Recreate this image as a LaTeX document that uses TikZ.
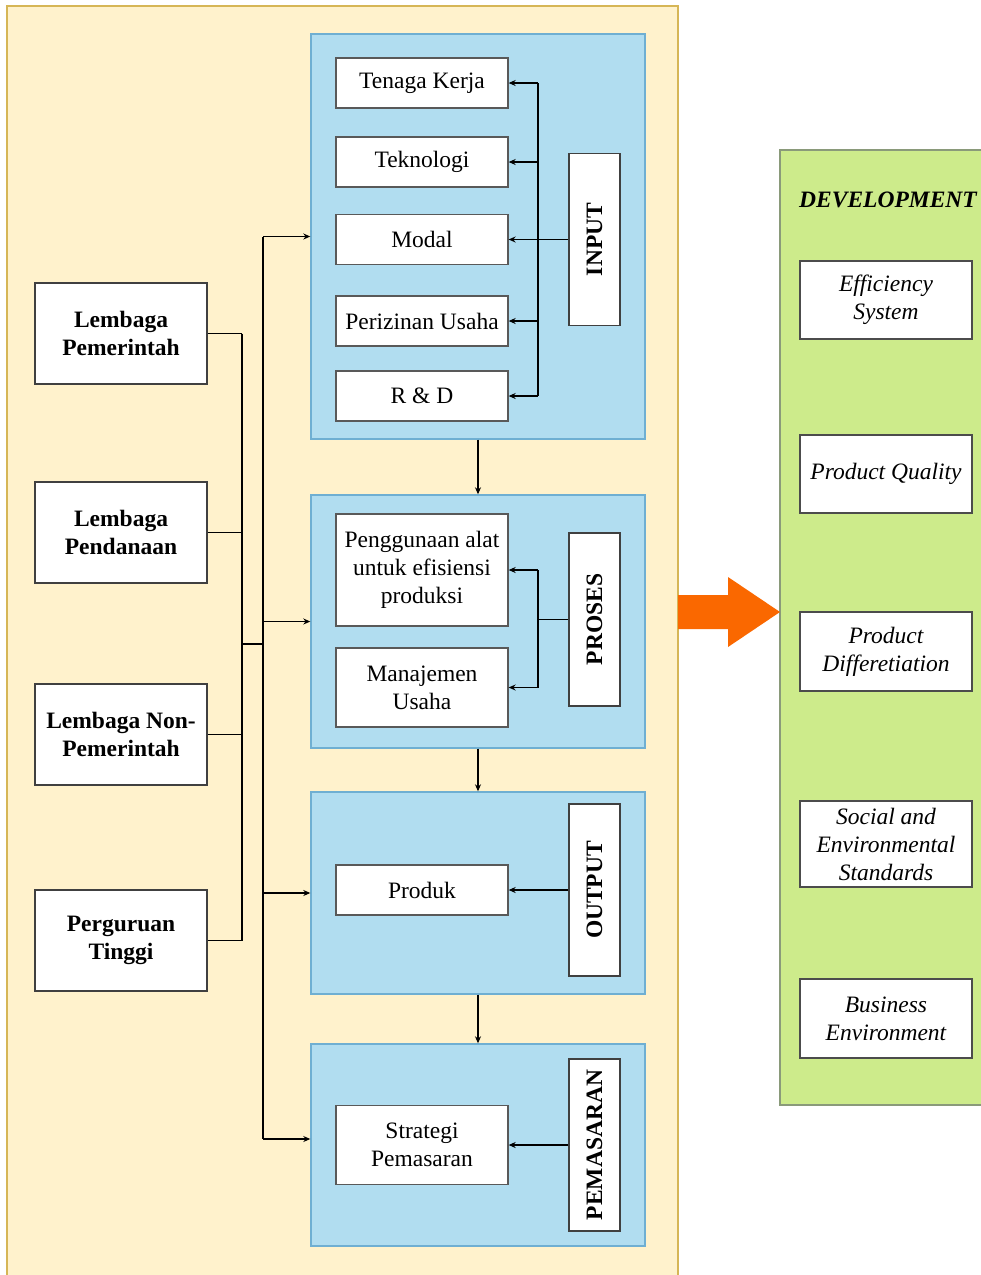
\documentclass[tikz,border=0pt]{standalone}
\usepackage{fontspec}
\setmainfont{Liberation Serif}
\usetikzlibrary{arrows.meta}
\definecolor{panelfill}{HTML}{FFF2CC}
\definecolor{paneldraw}{HTML}{D6B656}
\definecolor{stagefill}{HTML}{B1DDF0}
\definecolor{stagedraw}{HTML}{6FAFD2}
\definecolor{devfill}{HTML}{CDEB8B}
\definecolor{devdraw}{HTML}{8A9A7A}
\definecolor{flowarrow}{HTML}{FA6800}
\begin{document}
\begin{tikzpicture}[x=1pt,y=-1pt,
  every node/.style={font=\fontsize{23.5}{28}\selectfont},
  stage/.style={draw=stagedraw, line width=1.4pt, fill=stagefill, minimum width=334pt, inner sep=0pt},
  item/.style={draw=black!65, line width=1.3pt, fill=white, minimum width=172pt, inner sep=1pt, align=center},
  actor/.style={draw=black!75, line width=1.3pt, fill=white, minimum width=172pt, minimum height=101pt, inner sep=1pt, align=center, font=\fontsize{23.5}{28}\selectfont\bfseries},
  tag/.style={draw=black!75, line width=1.3pt, fill=white, rotate=90, minimum width=172pt, minimum height=51pt, inner sep=0pt, font=\fontsize{23.5}{28}\selectfont\bfseries},
  goal/.style={draw=black!70, line width=1.3pt, fill=white, minimum width=172pt, inner sep=1pt, align=center, font=\fontsize{23.5}{28}\selectfont\itshape},
  link/.style={line width=1.2pt, black},
  arr/.style={link, -{Stealth[length=7pt,width=6pt]}}
]
\useasboundingbox (0,0) rectangle (981,1275);
\clip (0,0) rectangle (981,1275);
\fill[white] (0,0) rectangle (981,1275);

% main panel
\draw[paneldraw, fill=panelfill, line width=1.2pt] (7,6) rectangle (678,1290);

% stage containers
\node[stage, minimum height=405pt] (binput) at (478,236.5) {};
\node[stage, minimum height=253pt] (bproses) at (478,621.5) {};
\node[stage, minimum height=202pt] (boutput) at (478,893) {};
\node[stage, minimum height=202pt] (bpem) at (478,1145) {};

% input items
\node[item, minimum height=50pt] (tk) at (422,83) {Tenaga Kerja};
\node[item, minimum height=50pt] (tek) at (422,162) {Teknologi};
\node[item, minimum height=50pt] (mod) at (422,239.5) {Modal};
\node[item, minimum height=50pt] (per) at (422,321) {Perizinan Usaha};
\node[item, minimum height=50pt] (rd) at (422,396) {R \& D};
\node[tag] (inp) at (594.5,239.5) {INPUT};

% process items
\node[item, minimum height=112pt] (pg) at (422,570) {Penggunaan alat\\untuk efisiensi\\produksi};
\node[item, minimum height=79pt] (mu) at (422,687.5) {Manajemen\\Usaha};
\node[tag, minimum width=173pt] (pro) at (594.5,619.5) {PROSES};

% output and marketing items
\node[item, minimum height=50pt] (prod) at (422,890) {Produk};
\node[tag] (out) at (594.5,890) {OUTPUT};
\node[item, minimum height=79pt] (strat) at (422,1145) {Strategi\\Pemasaran};
\node[tag] (pem) at (594.5,1145) {PEMASARAN};

% supporting institutions
\node[actor] (lp) at (121,333.5) {Lembaga\\Pemerintah};
\node[actor] (lpd) at (121,532.5) {Lembaga\\Pendanaan};
\node[actor] (lnp) at (121,734.5) {Lembaga Non-\\Pemerintah};
\node[actor] (pt) at (121,940.5) {Perguruan\\Tinggi};

% input distribution bus (rotated tags: north anchor faces left)
\coordinate (ibus) at (538,239.5);
\draw[link] (ibus |- tk.east) -- (ibus |- rd.east);
\draw[arr] (inp.north) -- (mod.east);
\foreach \n in {tk,tek,per,rd} \draw[arr] (ibus |- \n.east) -- (\n.east);

% process distribution bus
\coordinate (pbus) at (538,619.5);
\draw[link] (pro.north) -- (pbus);
\draw[link] (pbus |- pg.east) -- (pbus |- mu.east);
\draw[arr] (pbus |- pg.east) -- (pg.east);
\draw[arr] (pbus |- mu.east) -- (mu.east);

\draw[arr] (out.north) -- (prod.east);
\draw[arr] (pem.north) -- (strat.east);

% flow between stages
\draw[arr] (binput.south) -- (bproses.north);
\draw[arr] (bproses.south) -- (boutput.north);
\draw[arr] (boutput.south) -- (bpem.north);

% institutions feed every stage
\coordinate (lbus) at (242,644);
\coordinate (rbus) at (263,644);
\foreach \n in {lp,lpd,lnp,pt} \draw[link] (\n.east) -- (lbus |- \n.east);
\draw[link] (lbus |- lp.east) -- (lbus |- pt.east);
\draw[link] (lbus) -- (rbus);
\draw[link] (rbus |- binput.west) -- ([yshift=6pt]rbus |- bpem.west);
\draw[arr] (rbus |- binput.west) -- (binput.west);
\draw[arr] (rbus |- bproses.west) -- (bproses.west);
\draw[arr] (rbus |- boutput.west) -- (boutput.west);
\draw[arr] ([yshift=6pt]rbus |- bpem.west) -- ([yshift=6pt]bpem.west);

% development panel
\draw[devdraw, fill=devfill, line width=1.3pt] (780,150) rectangle (1000,1105);
\node[font=\fontsize{23.5}{28}\selectfont\bfseries\itshape] (dev) at (888,200) {DEVELOPMENT};
\node[goal, minimum height=78pt] (es) at (886,300) {Efficiency\\System};
\node[goal, minimum height=78pt] (pq) at (886,474) {Product Quality};
\node[goal, minimum height=79pt] (pd) at (886,651.5) {Product\\Differetiation};
\node[goal, minimum height=86pt] (ses) at (886,844) {Social and\\Environmental\\Standards};
\node[goal, minimum height=79pt] (be) at (886,1018.5) {Business\\Environment};

% big arrow into development
\fill[flowarrow] (678,595) -- (728,595) -- (728,577) -- (780,612) -- (728,647) -- (728,629) -- (678,629) -- cycle;
\end{tikzpicture}
\end{document}
